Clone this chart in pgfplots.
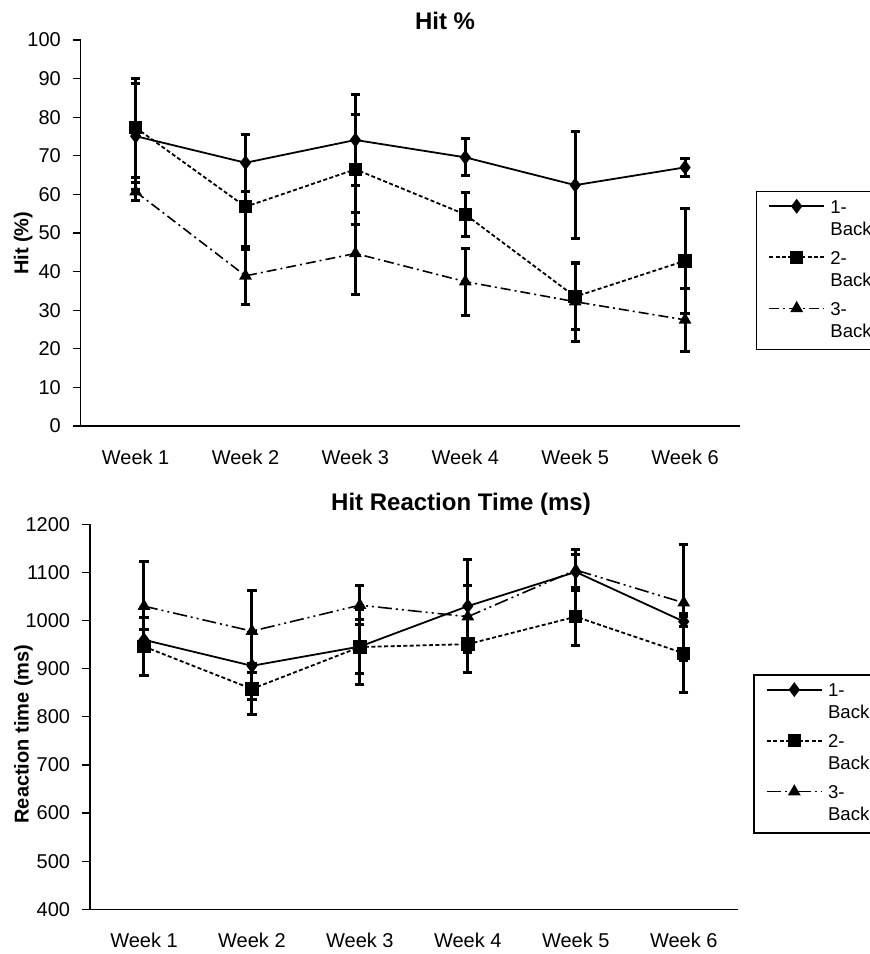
\documentclass[border=0pt]{standalone}
\usepackage{pgfplots}
\pgfplotsset{compat=1.18}
\usepackage{fontspec}
\setmainfont{Liberation Sans}

\pgfplotsset{
  common/.style={
    scale only axis,
    axis x line*=bottom, axis y line*=left,
    axis line style={-, line width=0.6pt, black},
    xmin=0.5, xmax=6.5,
    xtick={1,...,6},
    xticklabels={Week 1,Week 2,Week 3,Week 4,Week 5,Week 6},
    x tick style={draw=none},
    tick align=outside,
    major tick length=4pt,
    y tick style={line width=0.6pt, black},
    tick label style={font=\fontsize{10}{12}\selectfont},
    /pgf/number format/assume math mode=true,
    /pgf/number format/1000 sep={},
    yticklabel style={inner sep=0pt},
    xticklabel style={inner sep=0pt},
    yticklabel shift=5.75pt,
    ylabel style={font=\bfseries\fontsize{10}{12}\selectfont, anchor=center},
    title style={font=\bfseries\fontsize{12}{14}\selectfont, anchor=base},
    legend style={draw=black, line width=0.6pt, font=\fontsize{9.3}{11}\selectfont,
      anchor=north west, inner xsep=6pt, inner ysep=3pt, row sep=3.5pt,
      cells={anchor=base west}, nodes={inner sep=0pt, text depth=14.3pt},
      /tikz/every odd column/.append style={column sep=2.65pt}},
    legend image code/.code={
      \draw[mark repeat=2, mark phase=2, #1] plot coordinates {(0pt,3.35pt) (13.75pt,3.35pt) (27.5pt,3.35pt)};
    },
    error bars/y dir=both, error bars/y explicit,
    error bars/error bar style={line width=1.5pt, solid},
    error bars/error mark options={rotate=90, mark size=2.3pt, line width=1.5pt, solid},
  },
  oneback/.style={black, line width=0.9pt, solid, mark=diamond*, mark size=3pt, mark options={solid}},
  twoback/.style={black, line width=0.9pt, dash pattern=on 2pt off 1.2pt, mark=square*, mark size=2.9pt, mark options={solid}},
}

\begin{document}
\begin{tikzpicture}
\begin{axis}[common,
  at={(40.35pt,-213pt)}, anchor=south west,
  width=329.65pt, height=193pt,
  ymin=0, ymax=100, ytick={0,10,...,100},
  xticklabel shift=8pt,
  ylabel={Hit (\%)},
  ylabel style={at={(rel axis cs:-0.0871,0.4733)}},
  title={Hit \%},
  title style={at={(rel axis cs:0.5526,1)}, yshift=-0.65pt},
  legend style={at={(rel axis cs:1.0238,0.6088)}},
]
\addplot[oneback] coordinates {(1,75.1) +- (0,13.7) (2,68.2) +- (0,7.4) (3,74.1) +- (0,11.8) (4,69.6) +- (0,4.8) (5,62.4) +- (0,13.8) (6,67.0) +- (0,2.4)};
\addlegendentry{\begin{tabular}[t]{@{}l@{}}1-\\Back\end{tabular}}
\addplot[twoback] coordinates {(1,77.3) +- (0,12.8) (2,56.8) +- (0,11.2) (3,66.5) +- (0,14.3) (4,54.8) +- (0,5.8) (5,33.5) +- (0,8.6) (6,42.8) +- (0,13.6)};
\addlegendentry{\begin{tabular}[t]{@{}l@{}}2-\\Back\end{tabular}}
\addplot[black, line width=0.8pt, dash pattern=on 5pt off 2pt on 1pt off 2pt, mark=triangle*, mark size=2.9pt, mark options={solid}] coordinates {(1,60.7) +- (0,2.3) (2,38.9) +- (0,7.5) (3,44.7) +- (0,10.6) (4,37.4) +- (0,8.7) (5,32.2) +- (0,10.2) (6,27.5) +- (0,8.1)};
\addlegendentry{\begin{tabular}[t]{@{}l@{}}3-\\Back\end{tabular}}
\end{axis}

\begin{axis}[common,
  at={(45pt,-454.65pt)}, anchor=south west,
  width=323.85pt, height=192.5pt,
  ymin=400, ymax=1200, ytick={400,500,...,1200},
  xticklabel shift=7.4pt,
  ylabel={Reaction time (ms)},
  ylabel style={at={(rel axis cs:-0.1027,0.4553)}},
  title={Hit Reaction Time (ms)},
  title style={at={(rel axis cs:0.5728,1)}, yshift=1.15pt},
  legend style={at={(rel axis cs:1.0241,0.6104)}},
]
\addplot[oneback] coordinates {(1,960) +- (0,21) (2,906) +- (0,69) (3,946) +- (0,57) (4,1030) +- (0,97) (5,1101) +- (0,37) (6,998) +- (0,10)};
\addlegendentry{\begin{tabular}[t]{@{}l@{}}1-\\Back\end{tabular}}
\addplot[twoback] coordinates {(1,946) +- (0,60) (2,858) +- (0,53) (3,945) +- (0,78) (4,951) +- (0,58) (5,1008) +- (0,60) (6,932) +- (0,82)};
\addlegendentry{\begin{tabular}[t]{@{}l@{}}2-\\Back\end{tabular}}
\addplot[black, line width=0.8pt, dash pattern=on 7pt off 2pt on 1pt off 2pt on 1pt off 2pt, mark=triangle*, mark size=2.9pt, mark options={solid}] coordinates {(1,1030) +- (0,92) (2,978) +- (0,85) (3,1032) +- (0,40) (4,1008) +- (0,64) (5,1105) +- (0,42) (6,1037) +- (0,121)};
\addlegendentry{\begin{tabular}[t]{@{}l@{}}3-\\Back\end{tabular}}
\end{axis}
\pgfresetboundingbox
\path[use as bounding box] (0,0) rectangle (435pt,-477pt);
\end{tikzpicture}
\end{document}
